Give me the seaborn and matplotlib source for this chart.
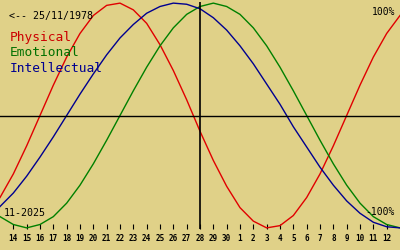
import matplotlib
matplotlib.use("Agg")
import matplotlib.pyplot as plt
import seaborn as sns
import pandas as pd

# day offsets relative to today (28 Nov 2025)
days = list(range(-15, 16))
physical = [-0.73, -0.52, -0.27, 0.00, 0.27, 0.52, 0.73, 0.89, 0.98, 1.00, 0.94,
            0.82, 0.63, 0.40, 0.14, -0.14, -0.40, -0.63, -0.82, -0.94, -1.00,
            -0.98, -0.89, -0.73, -0.52, -0.27, 0.00, 0.27, 0.52, 0.73, 0.89]
emotional = [-0.90, -0.97, -1.00, -0.97, -0.90, -0.78, -0.62, -0.43, -0.22, 0.00,
             0.22, 0.43, 0.62, 0.78, 0.90, 0.97, 1.00, 0.97, 0.90, 0.78, 0.62,
             0.43, 0.22, 0.00, -0.22, -0.43, -0.62, -0.78, -0.90, -0.97, -1.00]
intellectual = [-0.81, -0.69, -0.54, -0.37, -0.19, 0.00, 0.19, 0.37, 0.54, 0.69,
                0.81, 0.91, 0.97, 1.00, 0.99, 0.95, 0.87, 0.76, 0.62, 0.46, 0.28,
                0.10, -0.10, -0.28, -0.46, -0.62, -0.76, -0.87, -0.95, -0.99, -1.00]
tick_days = list(range(-14, 15))
tick_labels = ['14', '15', '16', '17', '18', '19', '20', '21', '22', '23', '24', '25',
               '26', '27', '28', '29', '30', '1', '2', '3', '4', '5', '6', '7', '8',
               '9', '10', '11', '12']
series_names = ['Physical', 'Emotional', 'Intellectual']
colors = ['#e00000', '#008000', '#000090']

df = pd.concat([
    pd.DataFrame({'day': days, 'value': physical, 'cycle': 'Physical'}),
    pd.DataFrame({'day': days, 'value': emotional, 'cycle': 'Emotional'}),
    pd.DataFrame({'day': days, 'value': intellectual, 'cycle': 'Intellectual'}),
])

bg = '#e0d188'
fig = plt.figure(figsize=(4, 2.5), dpi=100, facecolor=bg)
ax = fig.add_axes([0, 21 / 250, 1, 227 / 250])
ax.set_facecolor(bg)

sns.lineplot(data=df, x='day', y='value', hue='cycle', hue_order=series_names,
             palette=colors, linewidth=1, legend=False, ax=ax)

ax.axhline(0, color='black', lw=1)
ax.axvline(0, color='black', lw=1.2)

ax.set_xlim(-15, 15)
ax.set_ylim(-1.01, 1.01)
for s in ax.spines.values():
    s.set_visible(False)
ax.set_yticks([])
ax.set_xticks(tick_days)
ax.set_xticklabels(tick_labels, fontfamily='DejaVu Sans Mono', fontweight='bold', fontsize=5.5)
ax.tick_params(axis='x', direction='in', length=3.6, width=0.8, color='black', pad=3.5)
ax.set_xlabel('')
ax.set_ylabel('')

mono = 'DejaVu Sans Mono'
fig.text(9 / 400, 1 - 16 / 250, '<-- 25/11/1978', fontfamily=mono, fontsize=7.2,
         va='center', ha='left', color='black')
for name, c, y in zip(series_names, ['#cc0000', '#007000', '#000090'], [38, 53, 68]):
    fig.text(10 / 400, 1 - y / 250, name, fontfamily=mono, fontsize=9.3,
             va='center', ha='left', color=c)
fig.text(4 / 400, 1 - 213 / 250, '11-2025', fontfamily=mono, fontsize=7.2,
         va='center', ha='left', color='black')
fig.text(395 / 400, 1 - 12 / 250, '100%', fontfamily=mono, fontsize=7,
         va='center', ha='right', color='black')
fig.text(395 / 400, 1 - 212 / 250, '-100%', fontfamily=mono, fontsize=7,
         va='center', ha='right', color='black')

fig.savefig('out.png', dpi=100, facecolor=bg)
